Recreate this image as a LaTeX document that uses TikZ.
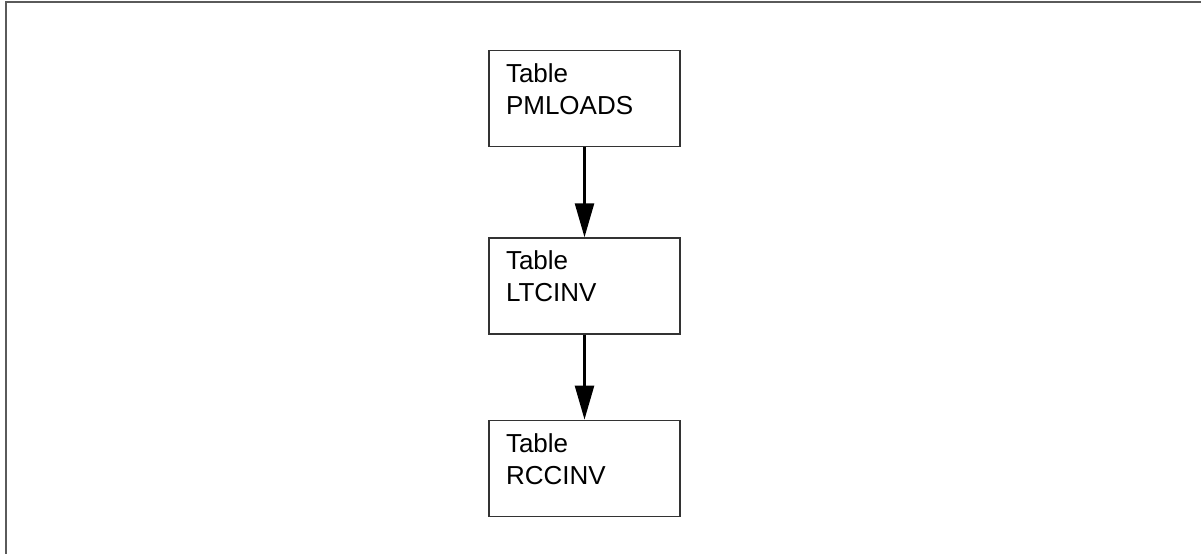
\documentclass[tikz,border=0pt]{standalone}
\usepackage{fontspec}
\setmainfont{Liberation Sans}
\usetikzlibrary{positioning,arrows.meta}
\definecolor{framec}{HTML}{5A5A5A}
\definecolor{boxc}{HTML}{333333}

\tikzset{
  tablebox/.style={draw=boxc, line width=1.3pt, rectangle, align=left,
    text width=157pt, inner xsep=17pt, inner ysep=0pt,
    text height=32pt, text depth=64pt,
    font=\fontsize{26}{32}\selectfont},
  flow/.style={line width=2.5pt, -{Triangle[length=34pt,width=19pt]}}
}

\begin{document}
\begin{tikzpicture}[x=1pt, y=-1pt]
  \useasboundingbox (0,0) rectangle (1201,554);
  \draw[framec, line width=2pt] (1201,2) -- (6,2) -- (6,554);
  \node[tablebox, anchor=north] (pmloads) at (584.5,50) {Table\\PMLOADS};
  \node[tablebox, below=90pt of pmloads] (ltcinv) {Table\\LTCINV};
  \node[tablebox, below=85pt of ltcinv] (rccinv) {Table\\RCCINV};
  \draw[flow] (pmloads) -- (ltcinv);
  \draw[flow] (ltcinv) -- (rccinv);
\end{tikzpicture}
\end{document}
